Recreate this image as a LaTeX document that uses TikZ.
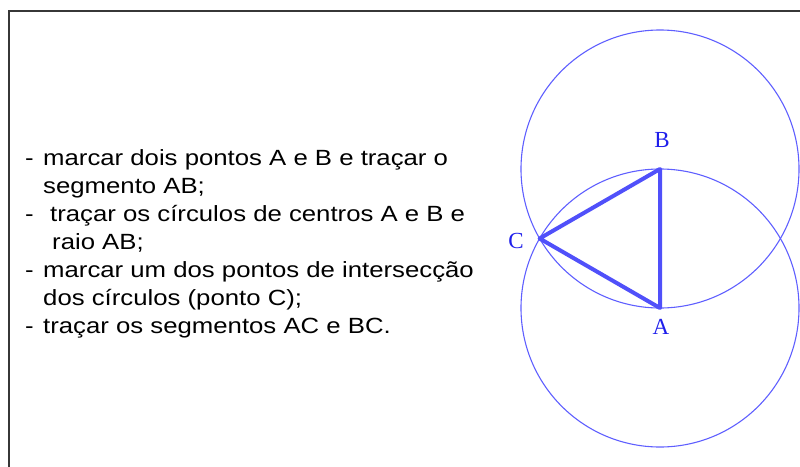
\documentclass[tikz,border=0pt]{standalone}
\usepackage{fontspec}
\setmainfont{Liberation Sans}
\newfontfamily\txtfont[FakeStretch=1.17]{Liberation Sans}
\newfontfamily\lblfont{Liberation Serif}
\definecolor{framecol}{RGB}{55,55,55}
\definecolor{circcol}{RGB}{95,95,255}
\definecolor{tricol}{RGB}{80,80,250}
\definecolor{lblcol}{RGB}{30,30,235}
\tikzset{
  frameline/.style={draw=framecol, line width=2pt},
  circline/.style={draw=circcol, line width=1.1pt},
  triline/.style={draw=tricol, line width=4pt, line join=round, line cap=round},
  lbl/.style={text=lblcol, font=\lblfont\fontsize{23}{23}\selectfont, inner sep=0pt},
  txtline/.style={anchor=base west, inner sep=0pt, font=\txtfont\fontsize{22}{22}\selectfont, text=black}
}
\begin{document}
\begin{tikzpicture}[x=1pt,y=-1pt]
\useasboundingbox (0,0) rectangle (800,466);
\coordinate (fbl) at (9,470);
\coordinate (ftl) at (9,11);
\coordinate (ftr) at (804,11);
\draw[frameline] (fbl) -- (ftl) -- (ftr);
% geometry
\coordinate (A) at (660,308);
\coordinate (B) at (660,169);
\coordinate (C) at (539.6,238.5);
\draw[circline] (A) circle[radius=139pt];
\draw[circline] (B) circle[radius=139pt];
\draw[triline] (A) -- (B) -- (C) -- cycle;
\node[lbl] (lB) at (662,140.5) {B};
\node[lbl] (lA) at (661,327) {A};
\node[lbl] (lC) at (516,241) {C};
% text
\node[txtline] (d1) at (25,165) {-};
\node[txtline] (t1) at (43,165) {marcar dois pontos A e B e traçar o};
\node[txtline] (t2) at (43,193) {segmento AB;};
\node[txtline] (d3) at (25,221) {-};
\node[txtline] (t3) at (50,221) {traçar os círculos de centros A e B e};
\node[txtline] (t4) at (52,249) {raio AB;};
\node[txtline] (d5) at (25,277) {-};
\node[txtline] (t5) at (43,277) {marcar um dos pontos de intersecção};
\node[txtline] (t6) at (43,305) {dos círculos (ponto C);};
\node[txtline] (d7) at (25,333) {-};
\node[txtline] (t7) at (43,333) {traçar os segmentos AC e BC.};
\end{tikzpicture}
\end{document}
